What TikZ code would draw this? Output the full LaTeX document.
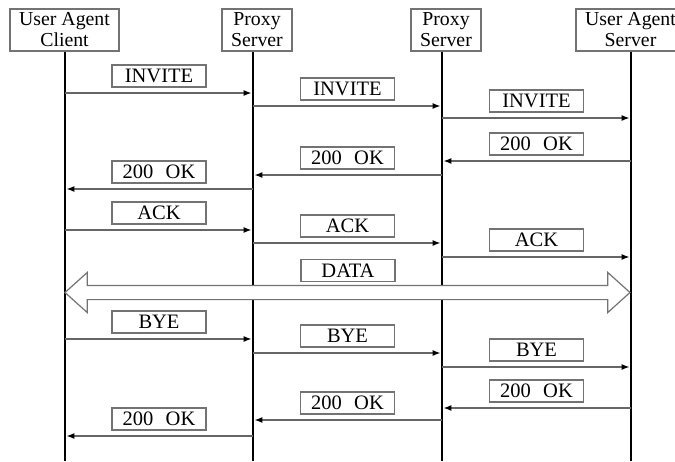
\documentclass[tikz,border=0pt]{standalone}
\usepackage{fontspec}
\setmainfont{Liberation Serif}
\usetikzlibrary{arrows.meta,shapes.arrows}

\begin{document}
\begin{tikzpicture}[x=1pt, y=-1pt, >={Latex[length=8pt,width=6pt,color=black]},
  hdr/.style={draw=black!55, line width=1.2pt, align=center, inner xsep=3pt, inner ysep=1.5pt,
    minimum height=42pt, font=\fontsize{19.8}{21}\selectfont},
  lbl/.style={draw=black!55, line width=1.2pt, minimum width=94pt, minimum height=22pt,
    inner sep=1pt, font=\fontsize{20.5}{21}\selectfont},
  life/.style={line width=2.8pt},
  msg/.style={->, draw=black!60, line width=1.3pt, shorten >=1.4pt}]
  \useasboundingbox (0,0) rectangle (675,461);
  % lifelines
  \coordinate (a) at (65,0);
  \coordinate (b) at (253,0);
  \coordinate (c) at (442,0);
  \coordinate (d) at (631,0);
  \node[hdr, minimum width=109pt] (uac) at (64.5,30) {User Agent\\Client};
  \node[hdr, minimum width=70pt] (px1) at (257,30) {Proxy\\Server};
  \node[hdr, minimum width=70pt] (px2) at (446,30) {Proxy\\Server};
  \node[hdr, minimum width=109pt] (uas) at (630.5,30) {User Agent\\Server};
  \draw[life] (uac.south -| a) -- (a |- 0,461);
  \draw[life] (px1.south -| b) -- (b |- 0,461);
  \draw[life] (px2.south -| c) -- (c |- 0,461);
  \draw[life] (uas.south -| d) -- (d |- 0,461);
  % invite
  \draw[msg] (a |- 0,93) -- (b |- 0,93) node[lbl, midway, above=5.5pt] (m1) {INVITE};
  \draw[msg] (b |- 0,106) -- (c |- 0,106) node[lbl, midway, above=5.5pt] (m2) {INVITE};
  \draw[msg] (c |- 0,118) -- (d |- 0,118) node[lbl, midway, above=5.5pt] (m3) {INVITE};
  \draw[msg] (d |- 0,161) -- (c |- 0,161) node[lbl, midway, above=5.5pt] (m4) {200\hspace{0.6em}OK};
  \draw[msg] (c |- 0,175) -- (b |- 0,175) node[lbl, midway, above=5.5pt] (m5) {200\hspace{0.6em}OK};
  \draw[msg] (b |- 0,189) -- (a |- 0,189) node[lbl, midway, above=5.5pt] (m6) {200\hspace{0.6em}OK};
  % ack
  \draw[msg] (a |- 0,230) -- (b |- 0,230) node[lbl, midway, above=5.5pt] (m7) {ACK};
  \draw[msg] (b |- 0,243) -- (c |- 0,243) node[lbl, midway, above=5.5pt] (m8) {ACK};
  \draw[msg] (c |- 0,257) -- (d |- 0,257) node[lbl, midway, above=5.5pt] (m9) {ACK};
  % data
  \node[lbl] (dlbl) at (348,270.5) {DATA};
  \node[double arrow, draw=black!55, fill=white, line width=1.2pt, inner xsep=0pt, inner ysep=6.5pt,
    minimum height=565pt, double arrow head extend=13pt, double arrow tip angle=84] (dat) at (347.5,292.5) {};
  % bye
  \draw[msg] (a |- 0,339) -- (b |- 0,339) node[lbl, midway, above=5.5pt] (m10) {BYE};
  \draw[msg] (b |- 0,353) -- (c |- 0,353) node[lbl, midway, above=5.5pt] (m11) {BYE};
  \draw[msg] (c |- 0,367) -- (d |- 0,367) node[lbl, midway, above=5.5pt] (m12) {BYE};
  \draw[msg] (d |- 0,408) -- (c |- 0,408) node[lbl, midway, above=5.5pt] (m13) {200\hspace{0.6em}OK};
  \draw[msg] (c |- 0,420) -- (b |- 0,420) node[lbl, midway, above=5.5pt] (m14) {200\hspace{0.6em}OK};
  \draw[msg] (b |- 0,436) -- (a |- 0,436) node[lbl, midway, above=5.5pt] (m15) {200\hspace{0.6em}OK};
\end{tikzpicture}
\end{document}
